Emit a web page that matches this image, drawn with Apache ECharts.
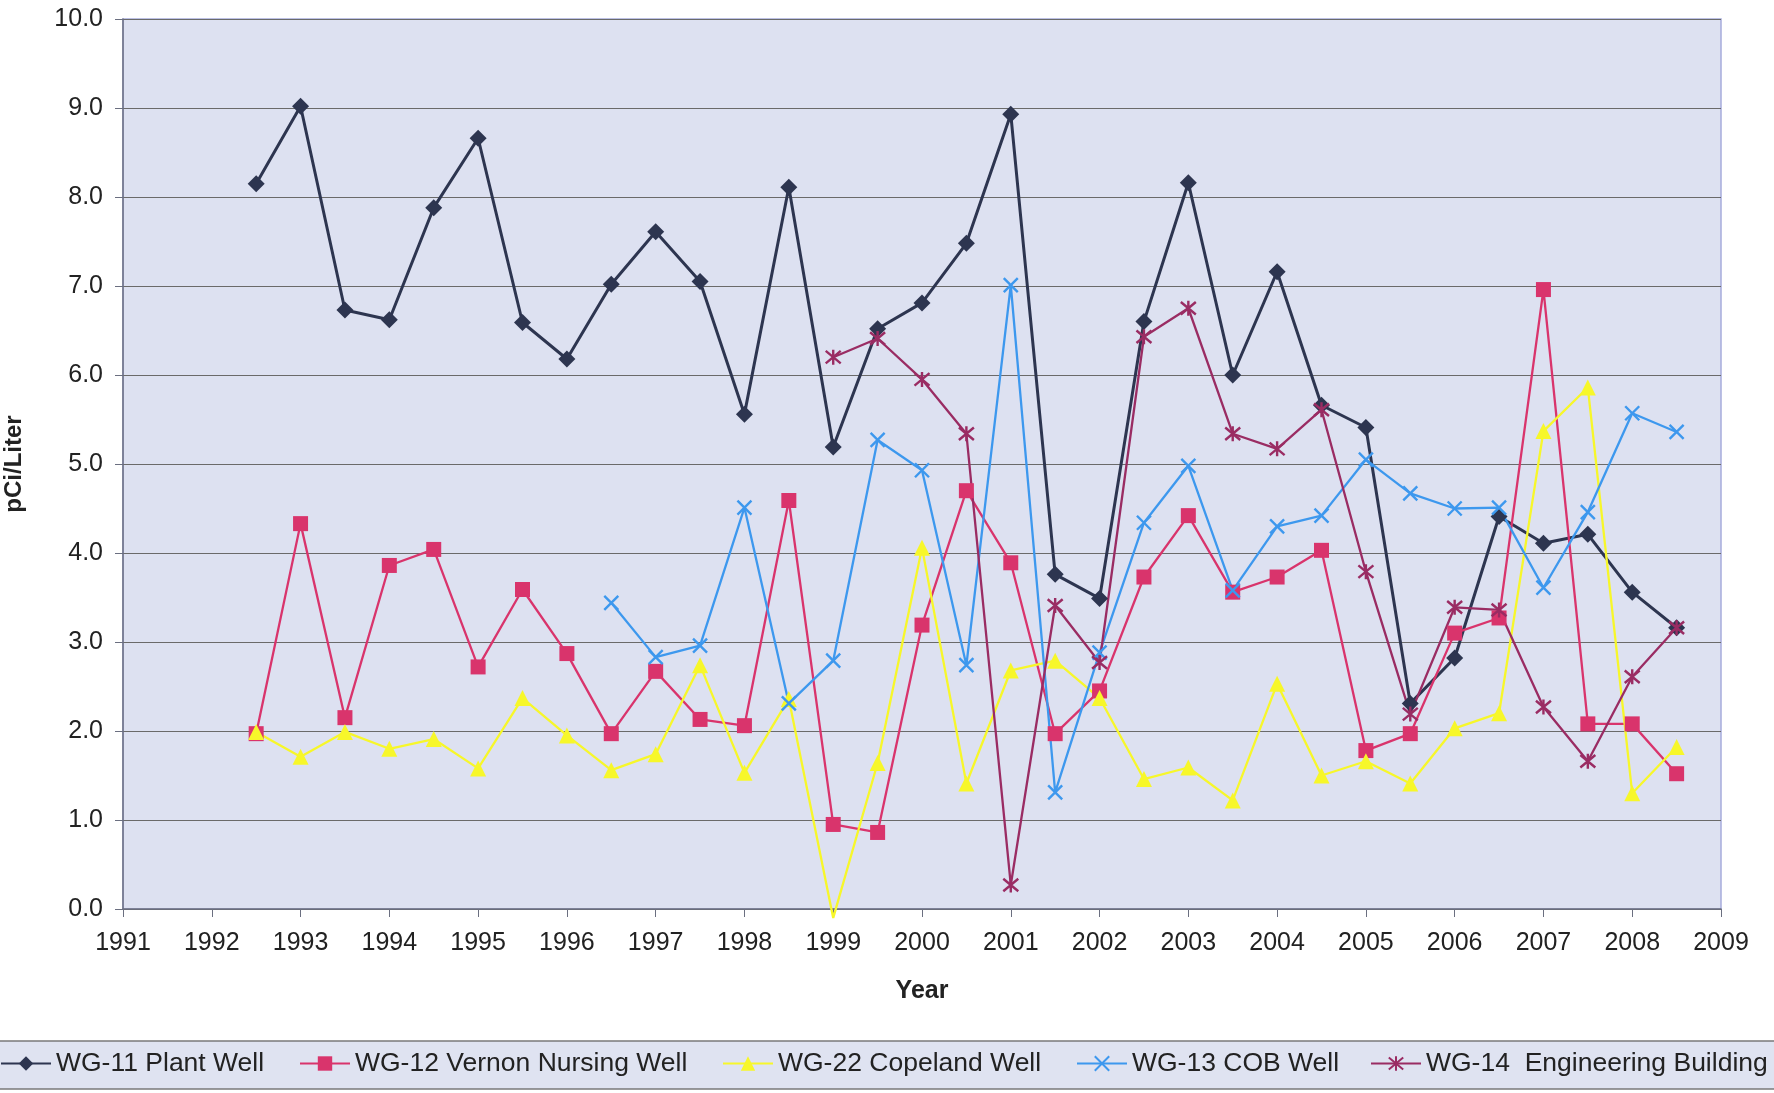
<!DOCTYPE html>
<html>
<head>
<meta charset="utf-8">
<title>Radon results by well</title>
<script src="https://cdn.jsdelivr.net/npm/echarts@6/dist/echarts.min.js"></script>
<style>
    html, body { margin: 0; padding: 0; background: #fff; }
    #chart { width: 1774px; height: 1093px; }
</style>
</head>
<body>
<div id="chart"></div>
<script>
// sampling dates (half-year steps)
var years = [1992.5, 1993, 1993.5, 1994, 1994.5, 1995, 1995.5, 1996, 1996.5, 1997, 1997.5,
    1998, 1998.5, 1999, 1999.5, 2000, 2000.5, 2001, 2001.5, 2002, 2002.5, 2003, 2003.5,
    2004, 2004.5, 2005, 2005.5, 2006, 2006.5, 2007, 2007.5, 2008, 2008.5];

var wg11 = [8.15, 9.02, 6.73, 6.62, 7.88, 8.66, 6.59, 6.18, 7.02, 7.61, 7.05,
    5.56, 8.11, 5.19, 6.52, 6.81, 7.48, 8.93, 3.76, 3.49, 6.60, 8.16, 6.00,
    7.16, 5.66, 5.41, 2.31, 2.82, 4.41, 4.11, 4.21, 3.56, 3.16];
var wg12 = [1.97, 4.33, 2.15, 3.86, 4.04, 2.72, 3.59, 2.87, 1.97, 2.67, 2.13,
    2.06, 4.59, 0.95, 0.86, 3.19, 4.70, 3.89, 1.97, 2.45, 3.73, 4.42, 3.56,
    3.73, 4.03, 1.78, 1.97, 3.10, 3.27, 6.96, 2.08, 2.08, 1.52];
var wg22 = [1.99, 1.71, 1.99, 1.80, 1.91, 1.58, 2.37, 1.95, 1.56, 1.74, 2.74,
    1.53, 2.36, -0.1, 1.64, 4.06, 1.41, 2.68, 2.79, 2.37, 1.46, 1.59, 1.22,
    2.53, 1.50, 1.66, 1.41, 2.03, 2.20, 5.37, 5.86, 1.30, 1.82];
var wg13 = [null, null, null, null, null, null, null, null, 3.44, 2.83, 2.96,
    4.51, 2.31, 2.79, 5.27, 4.93, 2.74, 7.01, 1.31, 2.88, 4.34, 4.98, 3.58,
    4.30, 4.42, 5.05, 4.67, 4.50, 4.51, 3.61, 4.46, 5.57, 5.36];
var wg14 = [null, null, null, null, null, null, null, null, null, null, null,
    null, null, 6.20, 6.41, 5.95, 5.34, 0.27, 3.41, 2.77, 6.43, 6.75, 5.34,
    5.17, 5.61, 3.79, 2.19, 3.39, 3.36, 2.27, 1.66, 2.61, 3.16];

var seriesNames = ['WG-11 Plant Well', 'WG-12 Vernon Nursing Well', 'WG-22 Copeland Well',
    'WG-13 COB Well', 'WG-14  Engineering Building'];
var yTicks = [0, 1, 2, 3, 4, 5, 6, 7, 8, 9, 10];

var FONT = '"Liberation Sans", Arial, sans-serif';
var xPath = 'path://M0,0L10,10M10,0L0,10';
var starPath = 'path://M0,0L10,10M10,0L0,10M5,-1L5,11';

// pair each value with its date, drop missing ones
function toPoints(values) {
    var pts = [];
    for (var i = 0; i < years.length; i++) {
        if (values[i] === null) continue;
        if (values[i] < 0) {
            // below the axis: Excel clips the marker away
            pts.push({ value: [years[i], values[i]], symbol: 'none' });
        } else {
            pts.push([years[i], values[i]]);
        }
    }
    return pts;
}

function makeSeries(name, values, color, symbol, size, lineWidth, hollow) {
    return {
        name: name,
        type: 'line',
        data: toPoints(values),
        symbol: symbol,
        symbolSize: size,
        showAllSymbol: true,
        clip: false,
        lineStyle: { color: color, width: lineWidth },
        itemStyle: hollow ? { color: 'rgba(0,0,0,0)', borderColor: color, borderWidth: 2.4 }
                          : { color: color, borderWidth: 0 },
        emphasis: { disabled: true },
        animation: false
    };
}

var legendLefts = [0, 299, 722, 1076, 1370];
var legends = [];
for (var k = 0; k < seriesNames.length; k++) {
    legends.push({
        data: [seriesNames[k]],
        left: legendLefts[k],
        top: 1050,
        padding: 0,
        itemWidth: 50,
        itemHeight: 18,
        itemGap: 0,
        selectedMode: false,
        textStyle: { fontFamily: FONT, fontSize: 26.5, color: '#222' }
    });
}

var chart = echarts.init(document.getElementById('chart'));
var option = {
    backgroundColor: '#ffffff',
    animation: false,
    graphic: [{
        type: 'rect',
        z: -10,
        shape: { x: -5, y: 1041, width: 1784, height: 48 },
        style: { fill: '#dfe3f1', stroke: '#7a7a7a', lineWidth: 1.5 }
    }],
    legend: legends,
    grid: {
        left: 123,
        right: 53,
        top: 19,
        bottom: 184,
        outerBoundsMode: 'none',
        containLabel: false,
        show: true,
        backgroundColor: '#dde1f1',
        borderColor: '#a7acdc',
        borderWidth: 1.5
    },
    xAxis: {
        type: 'value',
        min: 1991,
        max: 2009,
        interval: 1,
        name: 'Year',
        nameLocation: 'middle',
        nameGap: 70,
        nameTextStyle: { fontFamily: FONT, fontSize: 25, fontWeight: 'bold', color: '#222' },
        axisLine: { show: true, lineStyle: { color: '#6b6f80', width: 1.5 } },
        axisTick: { show: true, length: 8, lineStyle: { color: '#6b6f80' } },
        axisLabel: {
            margin: 22, fontFamily: FONT, fontSize: 25, color: '#222',
            formatter: function(value) {
                return String(value);
            }
        },
        splitLine: { show: false }
    },
    yAxis: {
        type: 'value',
        min: yTicks[0],
        max: yTicks[yTicks.length - 1],
        interval: 1,
        name: 'pCi/Liter',
        nameLocation: 'middle',
        nameGap: 97,
        nameTextStyle: { fontFamily: FONT, fontSize: 24, fontWeight: 'bold', color: '#222' },
        axisLine: { show: true, lineStyle: { color: '#6b6f80', width: 1.5 } },
        axisTick: { show: true, length: 8, lineStyle: { color: '#6b6f80' } },
        axisLabel: {
            margin: 20, fontFamily: FONT, fontSize: 25, color: '#222',
            formatter: function(value) {
                return value.toFixed(1);
            }
        },
        splitLine: { show: true, lineStyle: { color: '#6a6a6a', width: 1.2 } }
    },
    series: [
        makeSeries(seriesNames[0], wg11, '#2d3550', 'diamond', 17, 3, false),
        makeSeries(seriesNames[1], wg12, '#d9346c', 'rect', 15, 2.3, false),
        makeSeries(seriesNames[2], wg22, '#f7f72a', 'triangle', 16, 2.3, false),
        makeSeries(seriesNames[3], wg13, '#3d98ee', xPath, 14, 2.3, true),
        makeSeries(seriesNames[4], wg14, '#9a2c63', starPath, 15, 2.3, true)
    ]
};
chart.setOption(option);
</script>
</body>
</html>
